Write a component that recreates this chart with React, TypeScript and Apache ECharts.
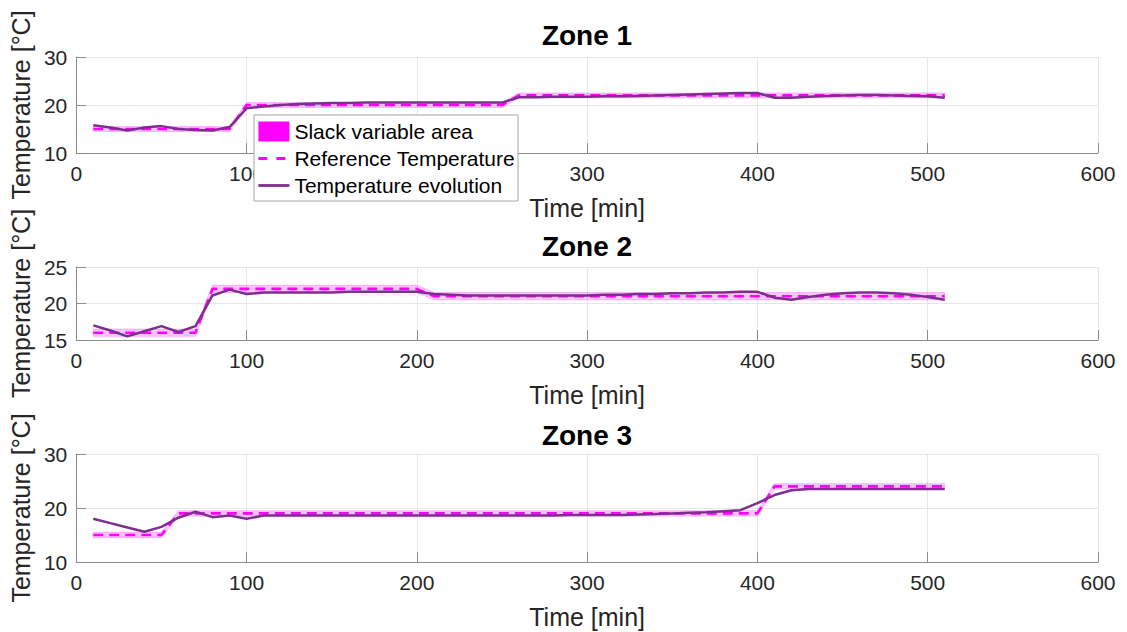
import React, { useEffect, useRef } from "react";
import * as echarts from "echarts";

const TIME = [
  10, 20, 30, 40, 50, 60, 70, 80, 90, 100,
  110, 120, 130, 140, 150, 160, 170, 180, 190, 200,
  210, 220, 230, 240, 250, 260, 270, 280, 290, 300,
  310, 320, 330, 340, 350, 360, 370, 380, 390, 400,
  410, 420, 430, 440, 450, 460, 470, 480, 490, 500, 510,
];

const ZONE_TITLES = ["Zone 1", "Zone 2", "Zone 3"];
const X_LABEL = "Time [min]";
const Y_LABEL = "Temperature [°C]";
const LEGEND_NAMES = ["Slack variable area", "Reference Temperature", "Temperature evolution"];
const SLACK = 0.5;

const REF1 = [
  15, 15, 15, 15, 15, 15, 15, 15, 15, 20,
  20, 20, 20, 20, 20, 20, 20, 20, 20, 20,
  20, 20, 20, 20, 20, 22, 22, 22, 22, 22,
  22, 22, 22, 22, 22, 22, 22, 22, 22, 22,
  22, 22, 22, 22, 22, 22, 22, 22, 22, 22, 22,
];
const TEMP1 = [
  15.8, 15.3, 14.7, 15.3, 15.6, 15.0, 14.8, 14.7, 15.4, 19.3,
  19.7, 20.0, 20.2, 20.3, 20.4, 20.4, 20.5, 20.5, 20.5, 20.5,
  20.5, 20.5, 20.5, 20.5, 20.5, 21.6, 21.6, 21.7, 21.7, 21.7,
  21.8, 21.8, 21.9, 22.0, 22.1, 22.2, 22.3, 22.4, 22.5, 22.5,
  21.5, 21.5, 21.7, 21.9, 22.0, 22.1, 22.1, 22.0, 21.9, 21.8, 21.5,
];

const REF2 = [
  16, 16, 16, 16, 16, 16, 16, 22, 22, 22,
  22, 22, 22, 22, 22, 22, 22, 22, 22, 22,
  21, 21, 21, 21, 21, 21, 21, 21, 21, 21,
  21, 21, 21, 21, 21, 21, 21, 21, 21, 21,
  21, 21, 21, 21, 21, 21, 21, 21, 21, 21, 21,
];
const TEMP2 = [
  17.0, 16.3, 15.5, 16.2, 16.9, 16.1, 16.9, 21.1, 21.9, 21.3,
  21.5, 21.5, 21.5, 21.5, 21.5, 21.6, 21.6, 21.6, 21.6, 21.6,
  21.3, 21.2, 21.1, 21.1, 21.1, 21.1, 21.1, 21.1, 21.1, 21.1,
  21.2, 21.2, 21.3, 21.3, 21.4, 21.4, 21.5, 21.5, 21.6, 21.6,
  20.8, 20.5, 20.9, 21.2, 21.4, 21.5, 21.5, 21.4, 21.2, 20.9, 20.5,
];

const REF3 = [
  15, 15, 15, 15, 15, 19, 19, 19, 19, 19,
  19, 19, 19, 19, 19, 19, 19, 19, 19, 19,
  19, 19, 19, 19, 19, 19, 19, 19, 19, 19,
  19, 19, 19, 19, 19, 19, 19, 19, 19, 19,
  24, 24, 24, 24, 24, 24, 24, 24, 24, 24, 24,
];
const TEMP3 = [
  18.0, 17.2, 16.4, 15.6, 16.5, 18.2, 19.3, 18.3, 18.6, 18.0,
  18.6, 18.6, 18.6, 18.6, 18.6, 18.6, 18.6, 18.6, 18.6, 18.6,
  18.6, 18.6, 18.6, 18.6, 18.6, 18.6, 18.6, 18.6, 18.7, 18.7,
  18.7, 18.7, 18.8, 18.9, 19.0, 19.1, 19.2, 19.4, 19.6, 20.9,
  22.4, 23.3, 23.5, 23.5, 23.5, 23.5, 23.5, 23.5, 23.5, 23.5, 23.5,
];

const Y_RANGES = [
  { min: 10, max: 30, interval: 10 },
  { min: 15, max: 25, interval: 5 },
  { min: 10, max: 30, interval: 10 },
];
const X_RANGE = { min: 0, max: 600, interval: 100 };

const REFS = [REF1, REF2, REF3];
const TEMPS = [TEMP1, TEMP2, TEMP3];

const FONT = "'Liberation Sans', Arial, Helvetica, sans-serif";
const MAGENTA = "#ff00ff";
const BAND_FILL = "rgba(255,0,255,0.22)";
const PURPLE = "#7e2f8e";
const AXIS_COLOR = "#8c8c8c";
const GRID_COLOR = "#e6e6e6";
const TEXT_COLOR = "#262626";

export default function App() {
  const ref = useRef<HTMLDivElement>(null);

  useEffect(() => {
    document.body.style.margin = "0";
    if (!ref.current) return;
    const chart = echarts.init(ref.current, undefined, { renderer: "svg" });

    const gridDefs = [
      { left: 73, right: 29, top: 57, height: 96 },
      { left: 73, right: 29, top: 267, height: 73 },
      { left: 73, right: 29, top: 454, height: 108 },
    ];
    const titleTops = [21, 232, 421];

    const xAxes = gridDefs.map((_, i) => ({
      type: "value",
      gridIndex: i,
      min: X_RANGE.min,
      max: X_RANGE.max,
      interval: X_RANGE.interval,
      name: X_LABEL,
      nameLocation: "middle",
      nameGap: 42,
      nameTextStyle: { fontSize: 25, color: TEXT_COLOR, fontFamily: FONT },
      axisLine: { show: true, lineStyle: { color: AXIS_COLOR, width: 1 } },
      axisTick: { show: true, inside: true, length: 10, lineStyle: { color: AXIS_COLOR } },
      axisLabel: { fontSize: 21, color: TEXT_COLOR, fontFamily: FONT, margin: 10 },
      splitLine: { show: true, lineStyle: { color: GRID_COLOR, width: 1 } },
    }));

    const yAxes = gridDefs.map((_, i) => ({
      type: "value",
      gridIndex: i,
      min: Y_RANGES[i].min,
      max: Y_RANGES[i].max,
      interval: Y_RANGES[i].interval,
      name: Y_LABEL,
      nameLocation: "middle",
      nameGap: 37,
      nameTextStyle: { fontSize: 25, color: TEXT_COLOR, fontFamily: FONT },
      axisLine: { show: true, lineStyle: { color: AXIS_COLOR, width: 1 } },
      axisTick: { show: true, inside: true, length: 10, lineStyle: { color: AXIS_COLOR } },
      axisLabel: { fontSize: 21, color: TEXT_COLOR, fontFamily: FONT, margin: 9 },
      splitLine: { show: true, lineStyle: { color: GRID_COLOR, width: 1 } },
    }));

    const series: any[] = [];
    for (let i = 0; i < 3; i++) {
      const bandData = TIME.map((t, k) => [t, REFS[i][k] - SLACK, REFS[i][k] + SLACK]);
      series.push({
        name: LEGEND_NAMES[0],
        type: "custom",
        xAxisIndex: i,
        yAxisIndex: i,
        data: bandData,
        encode: { x: 0, y: [1, 2] },
        itemStyle: { color: MAGENTA },
        silent: true,
        clip: true,
        z: 1,
        renderItem: (params: any, api: any) => {
          if (params.dataIndex !== 0) return null;
          const pts: number[][] = [];
          for (let k = 0; k < bandData.length; k++) {
            pts.push(api.coord([bandData[k][0], bandData[k][2]]));
          }
          for (let k = bandData.length - 1; k >= 0; k--) {
            pts.push(api.coord([bandData[k][0], bandData[k][1]]));
          }
          return {
            type: "polygon",
            shape: { points: pts },
            style: { fill: BAND_FILL, stroke: "rgba(255,0,255,0.3)", lineWidth: 0.8 },
          };
        },
      });
      series.push({
        name: LEGEND_NAMES[1],
        type: "line",
        xAxisIndex: i,
        yAxisIndex: i,
        data: TIME.map((t, k) => [t, REFS[i][k]]),
        symbol: "none",
        z: 2,
        itemStyle: { color: MAGENTA },
        lineStyle: { color: MAGENTA, width: 2.6, type: [10, 6] },
      });
      series.push({
        name: LEGEND_NAMES[2],
        type: "line",
        xAxisIndex: i,
        yAxisIndex: i,
        data: TIME.map((t, k) => [t, TEMPS[i][k]]),
        symbol: "none",
        z: 3,
        itemStyle: { color: PURPLE },
        lineStyle: { color: PURPLE, width: 2.5 },
      });
    }

    chart.setOption({
      animation: false,
      backgroundColor: "#ffffff",
      title: ZONE_TITLES.map((t, i) => ({
        text: t,
        left: 587,
        top: titleTops[i],
        textAlign: "center",
        padding: 0,
        textStyle: { fontSize: 28, fontWeight: "bold", color: "#000", fontFamily: FONT },
      })),
      grid: gridDefs,
      xAxis: xAxes,
      yAxis: yAxes,
      legend: {
        orient: "vertical",
        left: 254,
        top: 115,
        padding: [6, 3, 5, 3],
        itemGap: 6,
        itemWidth: 31,
        itemHeight: 20,
        itemTextGap: 5,
        backgroundColor: "#ffffff",
        borderColor: "#a6a6a6",
        borderWidth: 1,
        borderRadius: 0,
        selectedMode: false,
        z: 10,
        textStyle: { fontSize: 21, lineHeight: 21, color: "#000", fontFamily: FONT },
        data: [
          { name: LEGEND_NAMES[0], icon: "rect", itemStyle: { color: MAGENTA, opacity: 1 } },
          { name: LEGEND_NAMES[1], itemStyle: { opacity: 0 }, lineStyle: { color: MAGENTA, width: 2.8, type: [9, 9] } },
          { name: LEGEND_NAMES[2], itemStyle: { opacity: 0 }, lineStyle: { color: PURPLE, width: 2.8 } },
        ],
      },
      series,
    });

    return () => chart.dispose();
  }, []);

  return <div ref={ref} style={{ width: 1127, height: 632 }} />;
}
